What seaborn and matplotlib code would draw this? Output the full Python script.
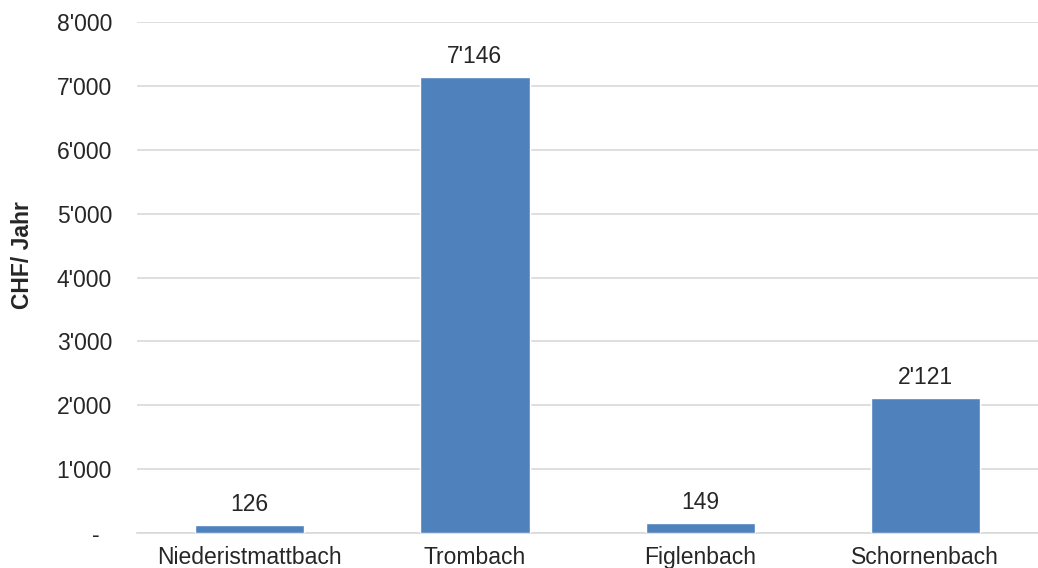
import matplotlib
matplotlib.use("Agg")
import matplotlib.pyplot as plt
import seaborn as sns
import pandas as pd
from matplotlib.ticker import FuncFormatter

categories = ["Niederistmattbach", "Trombach", "Figlenbach", "Schornenbach"]
values = [126, 7146, 149, 2121]
y_ticks = [0, 1000, 2000, 3000, 4000, 5000, 6000, 7000, 8000]

df = pd.DataFrame({"Bach": categories, "CHF": values})

sns.set_theme(style="white")
plt.rcParams["font.family"] = ["Liberation Sans", "DejaVu Sans"]

FS = 16.5
TXT = "#262626"

def swiss(v, pos=None):
    v = int(round(v))
    if v == 0:
        return "-  "
    return f"{v:,}".replace(",", "'")

fig = plt.figure(figsize=(10.38, 5.68), dpi=100)
ax = fig.add_axes([0.132, 0.0616, 0.868, 0.8994])

sns.barplot(data=df, x="Bach", y="CHF", color="#4F81BD", width=0.485,
            saturation=1, ax=ax, zorder=3)

ax.set_ylim(0, 8000)
ax.set_xlim(-0.5, 3.5)
ax.set_yticks(y_ticks)
ax.yaxis.set_major_formatter(FuncFormatter(swiss))
ax.grid(axis="y", color="#D9D9D9", linewidth=1.2, zorder=0)
ax.grid(axis="x", visible=False)

for s in ["top", "right", "left"]:
    ax.spines[s].set_visible(False)
ax.spines["bottom"].set_color("#D9D9D9")
ax.spines["bottom"].set_linewidth(1.2)

ax.tick_params(axis="y", length=0, pad=18, labelsize=FS, labelcolor=TXT)
ax.tick_params(axis="x", length=0, pad=9, labelsize=FS, labelcolor=TXT)

ax.set_xlabel("")
ax.set_ylabel("CHF/ Jahr", fontsize=FS, fontweight="bold", color=TXT)
# place the axis title relative to the axes (axes-fraction coordinates)
ax.yaxis.set_label_coords(-0.114, 0.545)

for i, v in enumerate(values):
    ax.annotate(swiss(v), (i, v), xytext=(0, 6.5), textcoords="offset points",
                ha="center", va="bottom", fontsize=FS, color=TXT)

fig.savefig("out.png", dpi=100)
